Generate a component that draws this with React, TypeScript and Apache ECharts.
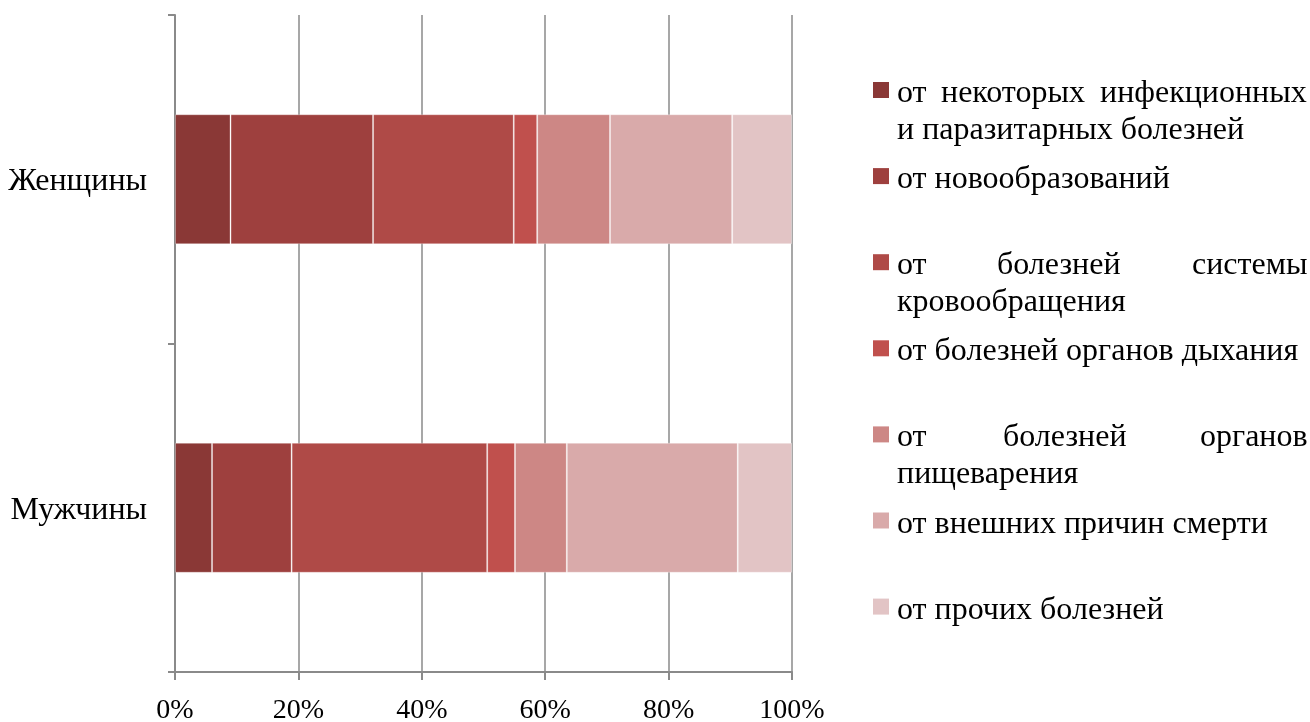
import React, { useEffect, useRef } from "react";
import * as echarts from "echarts";

// Структура смертности по причинам, % от общего числа умерших
const categories = ["Женщины", "Мужчины"];

const causeNames = [
  "от некоторых инфекционных и паразитарных болезней",
  "от новообразований",
  "от болезней системы кровообращения",
  "от болезней органов дыхания",
  "от болезней органов пищеварения",
  "от внешних причин смерти",
  "от прочих болезней",
];

// Строки подписей легенды; первая строка двухстрочных подписей выровнена по ширине
const legendLines = [
  ["от некоторых инфекционных", "и паразитарных болезней"],
  ["от новообразований"],
  ["от болезней системы", "кровообращения"],
  ["от болезней органов дыхания"],
  ["от болезней органов", "пищеварения"],
  ["от внешних причин смерти"],
  ["от прочих болезней"],
];

const womenValues = [9.0, 23.1, 22.8, 3.8, 11.8, 19.8, 9.7];
const menValues = [6.0, 12.9, 31.7, 4.5, 8.4, 27.7, 8.8];

const xTickValues = [0, 20, 40, 60, 80, 100];

const causeColors = [
  "#8A3836",
  "#9E403E",
  "#AF4A47",
  "#C0504D",
  "#CD8785",
  "#D9AAAA",
  "#E2C4C5",
];

const FONT = "Liberation Serif";
const AXIS_GRAY = "#8a8a8a";

// Левые края слов в строках, выровненных по ширине (px)
const justifiedWordX: Record<number, number[]> = {
  0: [897, 941, 1100],
  2: [897, 997, 1192],
  4: [897, 1003, 1200],
};

function buildLegend() {
  const markerX = 873;
  const textX = 897;
  const firstCenter = 90;
  const step = 86.1;
  const lineHeight = 37;
  const fontSize = 32;
  const elements: any[] = [];

  const textStyle = (text: string) => ({
    text,
    fontSize,
    fontFamily: FONT,
    fill: "#000",
    align: "left",
    verticalAlign: "middle",
  });

  legendLines.forEach((lines, i) => {
    const cy = firstCenter + step * i;
    elements.push({
      type: "rect",
      shape: { x: markerX, y: cy - 8, width: 16, height: 16 },
      style: { fill: causeColors[i] },
    });
    lines.forEach((line, li) => {
      const y = cy + 1 + li * lineHeight;
      const xs = li === 0 && lines.length > 1 ? justifiedWordX[i] : undefined;
      if (!xs) {
        elements.push({ type: "text", x: textX, y, style: textStyle(line) });
        return;
      }
      line.split(" ").forEach((w, wi) => {
        elements.push({ type: "text", x: xs[wi], y, style: textStyle(w) });
      });
    });
  });
  return elements;
}

export default function App() {
  const ref = useRef<HTMLDivElement>(null);

  useEffect(() => {
    if (!ref.current) return;
    const chart = echarts.init(ref.current, null, { renderer: "svg" });

    const series = causeNames.map((name, i) => ({
      name,
      type: "bar",
      stack: "total",
      barWidth: 130,
      data: [womenValues[i], menValues[i]],
      itemStyle: {
        color: causeColors[i],
        borderColor: "rgba(255,255,255,0.3)",
        borderWidth: 1,
      },
    }));

    chart.setOption({
      animation: false,
      grid: { left: 175, right: 518, top: 15, bottom: 50 },
      xAxis: {
        type: "value",
        min: xTickValues[0],
        max: xTickValues[xTickValues.length - 1],
        interval: 20,
        axisLine: { show: true, lineStyle: { color: AXIS_GRAY, width: 2 } },
        axisTick: { show: true, length: 8, lineStyle: { color: AXIS_GRAY, width: 2 } },
        splitLine: { show: true, lineStyle: { color: AXIS_GRAY, width: 1.5 } },
        axisLabel: {
          formatter: "{value}%",
          fontSize: 28,
          fontFamily: FONT,
          color: "#000",
          margin: 22,
        },
      },
      yAxis: {
        type: "category",
        data: categories,
        inverse: true,
        axisLine: { show: true, lineStyle: { color: AXIS_GRAY, width: 2 } },
        axisTick: { show: true, length: 7, lineStyle: { color: AXIS_GRAY, width: 2 } },
        axisLabel: {
          fontSize: 32,
          fontFamily: FONT,
          color: "#000",
          margin: 28,
        },
      },
      graphic: buildLegend(),
      series,
    });

    return () => chart.dispose();
  }, []);

  return (
    <div ref={ref} style={{ position: "fixed", left: 0, top: 0, width: 1310, height: 722 }} />
  );
}
